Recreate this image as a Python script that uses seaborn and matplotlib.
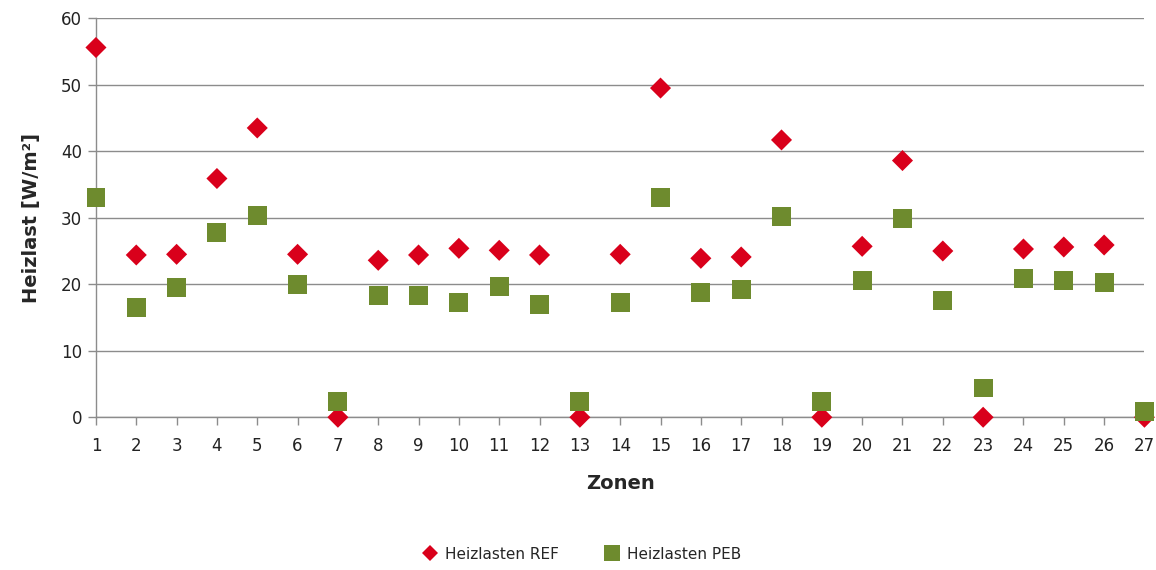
import numpy as np
import pandas as pd
import matplotlib.pyplot as plt
import seaborn as sns
plt.switch_backend("Agg")

zonen = list(range(1, 28))
heizlast_ref = [55.6, 24.4, 24.5, 35.9, 43.5, 24.5, 0.0, 23.6, 24.4, 25.4,
                25.1, 24.4, 0.0, 24.5, 49.5, 23.9, 24.1, 41.7, 0.0, 25.7,
                38.6, 25.0, 0.0, 25.3, 25.6, 25.9, 0.0]
heizlast_peb = [33.1, 16.5, 19.5, 27.8, 30.4, 20.0, 2.3, 18.3, 18.3, 17.3,
                19.7, 17.0, 2.3, 17.3, 33.1, 18.8, 19.2, 30.2, 2.3, 20.6,
                29.9, 17.6, 4.4, 20.8, 20.5, 20.2, 0.9]

df = pd.DataFrame({
    "Zone": zonen * 2,
    "Heizlast": heizlast_ref + heizlast_peb,
    "Serie": ["Heizlasten REF"] * 27 + ["Heizlasten PEB"] * 27,
})

sns.set_style("white")
plt.rcParams["font.family"] = ["DejaVu Sans"]

fig = plt.figure(figsize=(11.56, 5.70), dpi=100)
ax = fig.add_axes([0.083, 0.268, 0.907, 0.700])

sns.scatterplot(data=df, x="Zone", y="Heizlast", hue="Serie", style="Serie",
                size="Serie",
                sizes={"Heizlasten REF": 115, "Heizlasten PEB": 185},
                markers={"Heizlasten REF": "D", "Heizlasten PEB": "s"},
                palette={"Heizlasten REF": "#D9001B", "Heizlasten PEB": "#6E8B2E"},
                linewidth=0, ax=ax, zorder=3)
for coll in ax.collections:
    coll.set_clip_on(False)

ax.set_xlim(1, 27)
ax.set_ylim(0, 60)
ax.set_xticks(zonen)
ax.set_yticks(range(0, 61, 10))
ax.tick_params(axis="both", labelsize=12, length=6, direction="out", width=1,
               color="#8c8c8c", labelcolor="#222222", bottom=True, left=True)
ax.tick_params(axis="x", pad=8)
ax.tick_params(axis="y", pad=4)
ax.yaxis.grid(True, color="#8c8c8c", linewidth=1)
ax.set_axisbelow(True)
for side in ["top", "right"]:
    ax.spines[side].set_visible(False)
for side in ["left", "bottom"]:
    ax.spines[side].set_color("#8c8c8c")
    ax.spines[side].set_linewidth(1)

ax.set_xlabel("Zonen", fontsize=14, fontweight="bold", labelpad=14)
ax.set_ylabel("Heizlast [W/m²]", fontsize=14, fontweight="bold", labelpad=14)

handles, labels = ax.get_legend_handles_labels()
ax.legend_.remove()
fig.legend(handles, labels, loc="center", bbox_to_anchor=(0.5, 0.028), ncol=2,
           frameon=False, fontsize=11, handletextpad=0.0, columnspacing=2.5,
           markerscale=0.8)

fig.savefig("out.png", dpi=100)
